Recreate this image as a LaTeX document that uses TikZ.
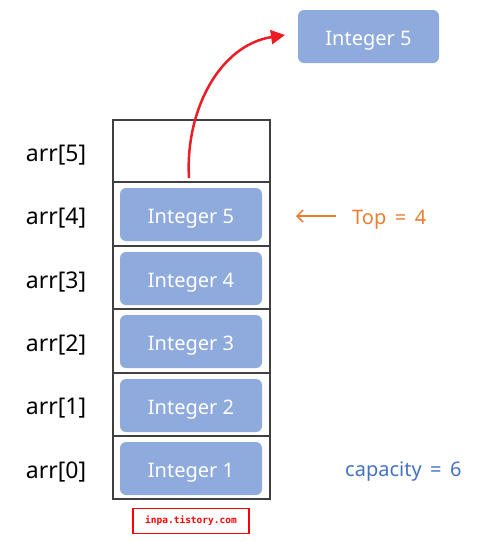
\documentclass[tikz,border=0pt]{standalone}
\usepackage{fontspec}
\setmainfont{Noto Sans}
\setmonofont{DejaVu Sans Mono}
\usetikzlibrary{arrows.meta}
\definecolor{boxblue}{HTML}{8FAADC}
\definecolor{topor}{HTML}{ED7D31}
\definecolor{capblue}{HTML}{4472C4}
\definecolor{arrred}{HTML}{ED1C24}
\begin{document}
\begin{tikzpicture}[x=1pt,y=-1pt,
  cell/.style={draw=black!75,line width=1.2pt},
  item/.style={fill=boxblue,rounded corners=6pt},
  itemtext/.style={text=white,font=\fontsize{20}{22}\selectfont,yshift=-4pt},
  idx/.style={font=\fontsize{23}{25}\selectfont,text=black,yshift=-4pt}]
\useasboundingbox (0,0) rectangle (498,541);
% cells
\foreach \t/\b/\n in {120/182/5,182/246/4,246/309/3,309/373/2,373/436/1,436/499/0}{
  \draw[cell] (113,\t) rectangle (270,\b);
  \node[idx] (l\n) at (56,{(\t+\b)/2}) {arr[\n]};
}
\foreach \t/\n in {182/5,246/4,309/3,373/2,436/1}{
  \path[item] (120,\t+6) rectangle (262,\t+59);
  \node[itemtext] (i\n) at (191,\t+32.5) {Integer \n};
}
\path[item] (298,10) rectangle (439,63);
\node[itemtext] (pop) at (368.5,36.5) {Integer 5};
\coordinate (s) at (189,178);
\coordinate (e) at (285,35);
\draw[arrred,line width=2.5pt,-{Triangle[length=14pt,width=14pt]}] (s) .. controls (185,110) and (220,45) .. (e);
% top pointer
\node[text=topor,font=\fontsize{20}{22}\selectfont,anchor=west,yshift=-4pt,inner sep=0pt] (top) at (352,216) {Top\,\ =\ \,4};
\coordinate (ta) at (336,216);
\coordinate (tb) at (296,216);
\draw[topor,line width=1.5pt,-{Straight Barb[length=6pt,width=12pt]}] (ta) -- (tb);
\node[text=capblue,font=\fontsize{20}{22}\selectfont,anchor=west,yshift=-4pt,inner sep=0pt] (cap) at (345,468) {capacity\,\ =\ \,6};
\node[draw=red,line width=1.5pt,minimum width=116pt,minimum height=25pt,text=red,font=\ttfamily\bfseries\fontsize{9.5}{10}\selectfont] (wm) at (191,521) {inpa.tistory.com};
\end{tikzpicture}
\end{document}
